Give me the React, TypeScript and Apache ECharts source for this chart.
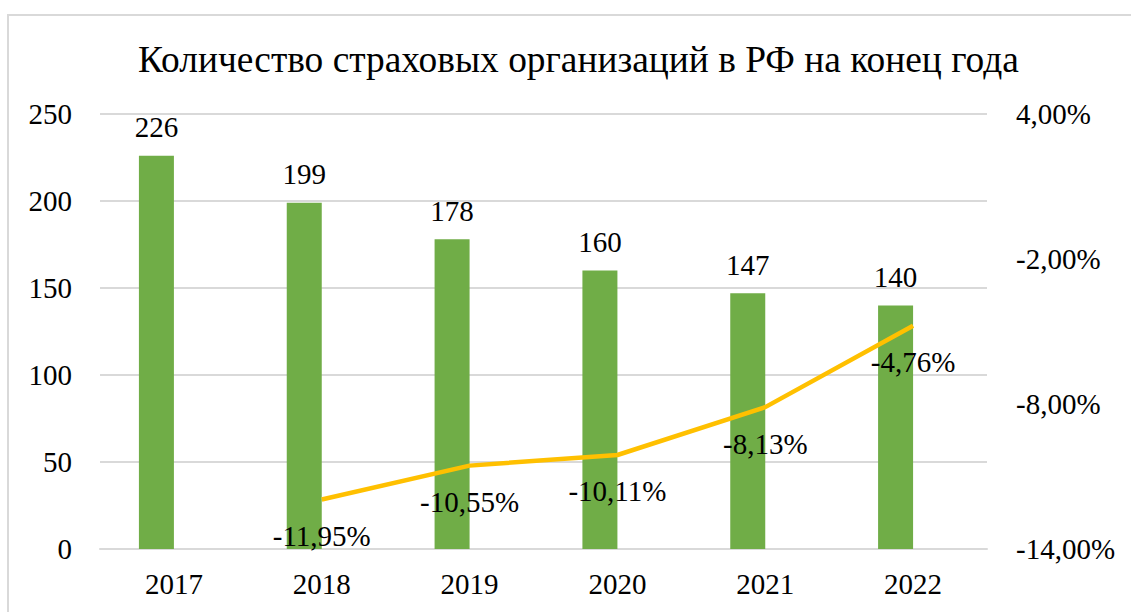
import React, { useEffect, useRef } from "react";
import * as echarts from "echarts";

const categories = ["2017", "2018", "2019", "2020", "2021", "2022"];
const orgCounts = [226, 199, 178, 160, 147, 140];
const changePct: (number | null)[] = [null, -11.95, -10.55, -10.11, -8.13, -4.76];
const titleText = "Количество страховых организаций в РФ на конец года";

const FONT = "'Liberation Serif', 'Times New Roman', serif";
const fmtPct = (v: number) => v.toFixed(2).replace(".", ",") + "%";

export default function App() {
  const ref = useRef<HTMLDivElement>(null);
  useEffect(() => {
    if (!ref.current) return;
    const chart = echarts.init(ref.current, undefined, { renderer: "svg" });
    chart.setOption({
      animation: false,
      backgroundColor: "#ffffff",
      textStyle: { fontFamily: FONT, color: "#000" },
      title: {
        text: titleText,
        left: 133,
        top: 36,
        textStyle: { fontFamily: FONT, fontSize: 37.4, fontWeight: "normal", color: "#000" },
      },
      graphic: [
        {
          type: "rect",
          shape: { x: 8, y: 15, width: 1300, height: 800 },
          style: { fill: "none", stroke: "#d9d9d9", lineWidth: 2 },
          silent: true,
        },
      ],
      grid: { left: 100, right: 144, top: 114, bottom: 63 },
      xAxis: {
        type: "category",
        data: categories,
        axisTick: { show: false },
        axisLine: { lineStyle: { color: "#d9d9d9", width: 2 } },
        axisLabel: { fontFamily: FONT, fontSize: 29, color: "#000", margin: 20 },
      },
      yAxis: [
        {
          type: "value",
          min: 0,
          max: 250,
          interval: 50,
          axisLine: { show: false },
          axisTick: { show: false },
          splitLine: { lineStyle: { color: "#d9d9d9", width: 2 } },
          axisLabel: { fontFamily: FONT, fontSize: 29, color: "#000", margin: 28 },
        },
        {
          type: "value",
          min: -14,
          max: 4,
          interval: 6,
          axisLine: { show: false },
          axisTick: { show: false },
          splitLine: { show: false },
          axisLabel: {
            fontFamily: FONT,
            fontSize: 29,
            color: "#000",
            margin: 29,
            formatter: (v: number) => fmtPct(v),
          },
        },
      ],
      series: [
        {
          type: "bar",
          data: orgCounts,
          barWidth: 35,
          barGap: "0%",
          itemStyle: { color: "#70AD47" },
          label: {
            show: true,
            position: "top",
            distance: 14,
            fontFamily: FONT,
            fontSize: 29,
            color: "#000",
          },
        },
        {
          type: "bar",
          data: categories.map(() => null),
          barWidth: 35,
          barGap: "0%",
          itemStyle: { color: "transparent" },
        },
        {
          type: "line",
          yAxisIndex: 1,
          data: changePct,
          symbol: "circle",
          symbolSize: 0,
          showSymbol: true,
          z: 5,
          lineStyle: { color: "#FFC000", width: 4.5 },
          itemStyle: { color: "#FFC000" },
          label: {
            show: true,
            position: "bottom",
            distance: 22,
            fontFamily: FONT,
            fontSize: 29,
            color: "#000",
            formatter: (p: any) => fmtPct(Number(p.value)),
          },
        },
      ],
    });
    return () => chart.dispose();
  }, []);
  return (
    <div
      ref={ref}
      style={{ position: "absolute", left: 0, top: 0, width: 1131, height: 612 }}
    />
  );
}
